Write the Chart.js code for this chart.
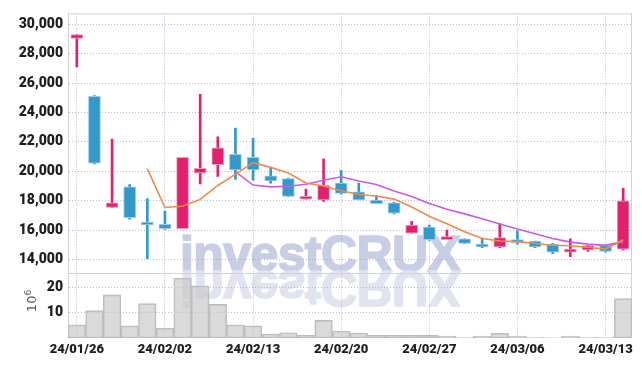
<!DOCTYPE html>
<html><head><meta charset="utf-8">
<script src="https://cdn.jsdelivr.net/npm/chart.js@4.4.1/dist/chart.umd.min.js"></script>
<style>
html,body{margin:0;padding:0;background:#fff;}
#wrap{position:relative;width:642px;height:366px;overflow:hidden;}
#c{position:absolute;left:0;top:0;}
.wm{position:absolute;left:180px;top:229px;font:bold 50px "Liberation Sans",Arial,sans-serif;line-height:50px;white-space:nowrap;letter-spacing:-0.6px;}
#wm1{color:#c8cee3;-webkit-text-stroke:1.6px #c8cee3;}
#wm2{color:#e1e4ef;-webkit-text-stroke:1.6px #e1e4ef;transform-origin:0 42px;transform:scaleY(-1);}
#vt{position:absolute;left:20px;top:293px;width:24px;height:16px;font:13px "DejaVu Sans",sans-serif;color:#555;transform:rotate(-90deg);transform-origin:center;text-align:center;line-height:16px;}
#vt sup{font-size:9px;vertical-align:5px;line-height:0;}
</style></head>
<body><div id="wrap">
<div class="wm" id="wm1">investCRUX</div>
<div class="wm" id="wm2">investCRUX</div>
<canvas id="c" width="642" height="366"></canvas>
<div id="vt">10<sup>6</sup></div>
</div>
<script>
const dates = ['24/01/26','24/01/29','24/01/30','24/01/31','24/02/01','24/02/02','24/02/05','24/02/06','24/02/07','24/02/08','24/02/13','24/02/14','24/02/15','24/02/16','24/02/19','24/02/20','24/02/21','24/02/22','24/02/23','24/02/26','24/02/27','24/02/28','24/02/29','24/03/04','24/03/05','24/03/06','24/03/07','24/03/08','24/03/11','24/03/12','24/03/13','24/03/14'];
const xTickLabels = ['24/01/26','24/02/02','24/02/13','24/02/20','24/02/27','24/03/06','24/03/13'];
const openP  = [29050,25100,17550,18950,16500,16400,16100,19900,20450,21150,20950,19700,19500,18100,18050,19200,18600,18050,17850,15800,16200,15350,15400,15000,14850,15300,15250,15050,14500,14650,14950,14700];
const highP  = [29300,25150,22200,19100,18150,17300,20950,25250,22350,22950,22250,20200,19550,18800,20850,20050,19200,18350,17900,16600,16350,16000,15400,15450,16450,15950,15250,15100,15400,15000,15000,18850];
const lowP   = [27100,20500,17550,16750,14050,16050,16100,19150,19650,19450,19400,19200,18300,18100,17950,18450,18050,17800,17100,15800,15300,15350,15100,14800,14800,15050,14800,14400,14200,14550,14500,14650];
const closeP = [29300,20550,17850,16850,16350,16100,20950,20200,21600,20100,20100,19350,18300,18200,19050,18500,18050,17800,17150,16350,15350,15500,15100,14850,15500,15150,14850,14500,14700,14950,14550,18000];
const ma5  = [null,null,null,null,20180,17540,17620,18090,19040,19790,20590,20270,19890,19210,19000,18680,18420,18320,18110,17570,16940,16430,15890,15430,15260,15220,15090,14970,14940,14830,14710,15340];
const ma10 = [null,null,null,null,null,null,null,null,null,19985,19065,18945,18990,19125,19395,19635,19345,19105,18660,18285,17810,17425,17105,16770,16415,16080,15760,15430,15185,15045,14965,15215];
const volume = [5.2,10.9,17.2,4.8,13.7,3.9,23.8,20.8,13.4,5.2,4.8,1.6,2.1,1.2,7.0,2.8,2.0,1.2,1.2,1.2,1.1,0.8,0.3,0.8,1.9,0.8,0.3,0.2,0.8,0.3,0.3,15.7];
const priceTicks = [14000,16000,18000,20000,22000,24000,26000,28000,30000];
const volTicks = [10,20];

const UP='#e3206d', DOWN='#3398ca', UPB='#f39bbd', DOWNB='#9ccbe6';
const isUp = openP.map((o,i)=>closeP[i]>=o);
const bodyCol = isUp.map(u=>u?UP:DOWN);
const bodyBord = isUp.map(u=>u?UPB:DOWNB);
const GRID='rgba(160,166,195,0.75)';
const FONTY={family:'Roboto,"DejaVu Sans Condensed",sans-serif',size:14,weight:'900'};
const FONTX={family:'Roboto,"DejaVu Sans Condensed",sans-serif',size:13,weight:'900'};

const frame={id:'frame',beforeDatasetsDraw(chart){
  const {ctx,chartArea:a,scales}=chart;
  ctx.save();ctx.strokeStyle='#d2d2d2';ctx.lineWidth=1;ctx.beginPath();
  ctx.moveTo(a.left,a.top+0.5);ctx.lineTo(a.right,a.top+0.5);
  ctx.moveTo(a.right-0.5,a.top);ctx.lineTo(a.right-0.5,a.bottom);
  const sy=Math.round(scales.yVol.top)+0.5;
  ctx.moveTo(a.left,sy);ctx.lineTo(a.right,sy);
  ctx.stroke();ctx.restore();
}};

new Chart(document.getElementById('c'),{
  type:'bar',
  data:{labels:dates,datasets:[
    {type:'line',label:'MA5',data:ma5,yAxisID:'y',borderColor:'#ef8a4c',borderWidth:1.6,pointRadius:0,tension:0,order:0},
    {type:'line',label:'MA10',data:ma10,yAxisID:'y',borderColor:'#c95ae3',borderWidth:1.6,pointRadius:0,tension:0,order:0},
    {label:'body',data:openP.map((o,i)=>[o,closeP[i]]),yAxisID:'y',backgroundColor:bodyCol,borderColor:bodyBord,borderWidth:1,borderSkipped:false,barThickness:12,minBarLength:3,grouped:false,order:1},
    {label:'wick',data:lowP.map((l,i)=>[l,highP[i]]),yAxisID:'y',backgroundColor:bodyCol,borderWidth:0,barThickness:2,grouped:false,order:2},
    {label:'vol',data:volume,yAxisID:'yVol',backgroundColor:'rgba(198,198,198,0.65)',borderColor:'#bdbdbd',borderWidth:1,borderSkipped:false,barPercentage:1,categoryPercentage:1,grouped:false,order:3}
  ]},
  options:{
    responsive:false,animation:false,devicePixelRatio:1,
    layout:{padding:{top:9,right:10,left:0,bottom:0}},
    plugins:{legend:{display:false},tooltip:{enabled:false}},
    scales:{
      x:{offset:true,grid:{offset:false,color:GRID,drawTicks:false},border:{display:false,dash:[1,2]},
        ticks:{autoSkip:false,maxRotation:0,font:FONTX,color:'#1e1e1e',padding:4,
          callback(v,i){const l=dates[i];return xTickLabels.includes(l)?l:null;}},
        afterFit(s){s.height=28;}},
      yVol:{position:'left',stack:'s',stackWeight:1,min:0,max:25.7,
        grid:{color:GRID,drawTicks:false},border:{color:'#d2d2d2',dash:[1,2]},
        afterBuildTicks(s){s.ticks=volTicks.map(v=>({value:v}));},
        ticks:{autoSkip:false,font:FONTY,color:'#1e1e1e',padding:5},
        afterFit(s){s.width=68;}},
      y:{position:'left',stack:'s',stackWeight:4.03,min:13050,max:30750,
        grid:{color:GRID,drawTicks:false},border:{color:'#d2d2d2',dash:[1,2]},
        afterBuildTicks(s){s.ticks=priceTicks.map(v=>({value:v}));},
        ticks:{autoSkip:false,font:FONTY,color:'#1e1e1e',padding:5,callback:v=>v.toLocaleString('en-US')},
        afterFit(s){s.width=68;}}
    }
  },
  plugins:[frame]
});
</script></body></html>
